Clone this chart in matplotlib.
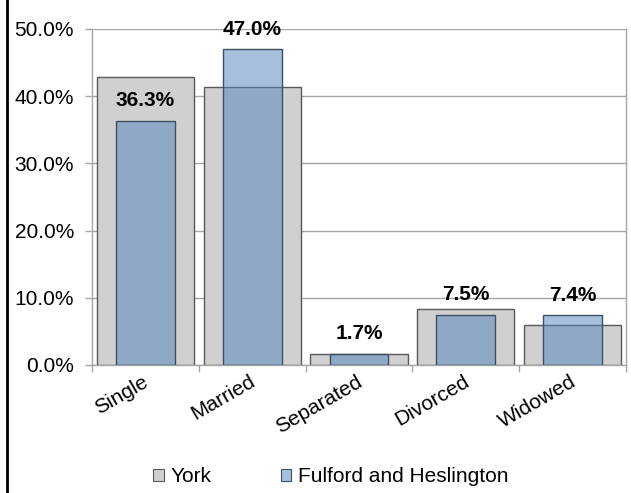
import matplotlib
matplotlib.use("Agg")
import matplotlib.pyplot as plt
from matplotlib.lines import Line2D
from matplotlib.patches import Patch
from matplotlib.ticker import FuncFormatter, FixedLocator
from matplotlib.transforms import ScaledTranslation
import numpy as np

categories = ["Single", "Married", "Separated", "Divorced", "Widowed"]
york = [42.8, 41.3, 1.7, 8.4, 5.9]
fulford = [36.3, 47.0, 1.7, 7.5, 7.4]
series_names = ["York", "Fulford and Heslington"]

plt.rcParams['font.family'] = ['Liberation Sans', 'DejaVu Sans']
FS = 15

fig = plt.figure(figsize=(6.31, 4.93), dpi=100)
ax = fig.add_axes([92/631, 1-365/493, (626-92)/631, (365-29)/493])

x = np.arange(len(categories))
gray = '#D0D0D0'
blue = (79/255, 129/255, 189/255, 0.5)
ax.bar(x, york, width=0.91, color=gray, edgecolor='#595959', linewidth=1.0, zorder=2)
ax.bar(x, fulford, width=0.55, color=blue, edgecolor='#3F4F60', linewidth=1.0, zorder=3)

for xi, v in zip(x, fulford):
    ax.annotate(f"{v:.1f}%", (xi, v), xytext=(0, 14.5), textcoords='offset points',
                ha='center', va='center', fontsize=FS, fontweight='bold', color='black', zorder=5)

ax.set_xlim(-0.5, len(categories)-0.5)
ax.set_ylim(0, 50)
ax.set_yticks(np.arange(0, 51, 10))
ax.yaxis.set_major_formatter(FuncFormatter(lambda v, p: f"{v:.1f}%"))
ax.grid(axis='y', color='#A6A6A6', linewidth=1.0, zorder=0)
ax.set_axisbelow(True)

ax.set_xticks(x)
ax.set_xticklabels(categories, rotation=30, ha='right', va='top', rotation_mode='anchor', fontsize=FS)
ax.tick_params(axis='x', length=0, pad=5)
for lab in ax.get_xticklabels():
    lab.set_transform(lab.get_transform() + ScaledTranslation(-3/100, 0, fig.dpi_scale_trans))
ax.xaxis.set_minor_locator(FixedLocator(np.arange(-0.5, len(categories), 1.0)))
ax.tick_params(axis='x', which='minor', length=5, color='#A6A6A6', width=1)
ax.tick_params(axis='y', length=5, color='#A6A6A6', width=1, labelsize=FS, pad=8)

for s in ['left', 'right', 'bottom']:
    ax.spines[s].set_color('#A6A6A6')
    ax.spines[s].set_linewidth(1.0)
ax.spines['top'].set_visible(False)

handles = [Patch(facecolor=gray, edgecolor='#595959', linewidth=0.8),
           Patch(facecolor='#A7C0DE', edgecolor='#3F4F60', linewidth=0.8)]
fig.legend(handles, series_names, loc='center', bbox_to_anchor=(331/631, 1-477/493),
           ncol=2, frameon=False, fontsize=FS, handlelength=0.5, handleheight=0.5,
           handletextpad=0.35, columnspacing=3.3, borderpad=0, borderaxespad=0)

fig.add_artist(Line2D([7/631, 7/631], [0, 1], transform=fig.transFigure, color='black', linewidth=2))

fig.savefig("out.png", dpi=100)
